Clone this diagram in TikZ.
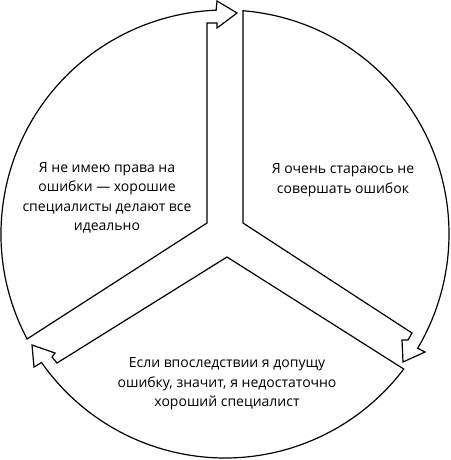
\documentclass[tikz,border=0pt]{standalone}
\usepackage{fontspec}
\setmainfont{Open Sans}
\begin{document}
\begin{tikzpicture}[x=1pt,y=-1pt,
  sector/.style={draw=black, line width=1.2pt, line join=miter},
  txt/.style={align=center, font=\fontsize{14}{19.5}\selectfont, inner sep=0pt}]
\useasboundingbox (0,0) rectangle (450,460);
\coordinate (C) at (225,234);
% top-right sector
\draw[sector] (243,223) -- ([shift={(C)}]-85.39:224)
  arc[start angle=-85.39, end angle=30.66, radius=224]
  -- (425,352) -- (403,362) -- (402,340) -- (408,340) -- (412,333) -- cycle;
% bottom sector
\draw[sector] (227,257) -- ([shift={(C)}]37.07:224)
  arc[start angle=37.07, end angle=144.98, radius=224]
  -- (34,367) -- (32,345) -- (55,353) -- (52,357) -- (57,363) -- cycle;
% left sector
\draw[sector] (207,223) -- ([shift={(C)}]152.06:224)
  arc[start angle=152.06, end angle=267.73, radius=224]
  -- (217,1) -- (237,13) -- (217,28) -- (217,23) -- (207,23) -- cycle;
\node[txt] (t1) at (107,198) {Я не имею права на\\ошибки — хорошие\\специалисты делают все\\идеально};
\node[txt] (t2) at (343,180) {Я очень стараюсь не\\совершать ошибок};
\node[txt] (t3) at (227,384) {Если впоследствии я допущу\\ошибку, значит, я недостаточно\\хороший специалист};
\end{tikzpicture}
\end{document}
